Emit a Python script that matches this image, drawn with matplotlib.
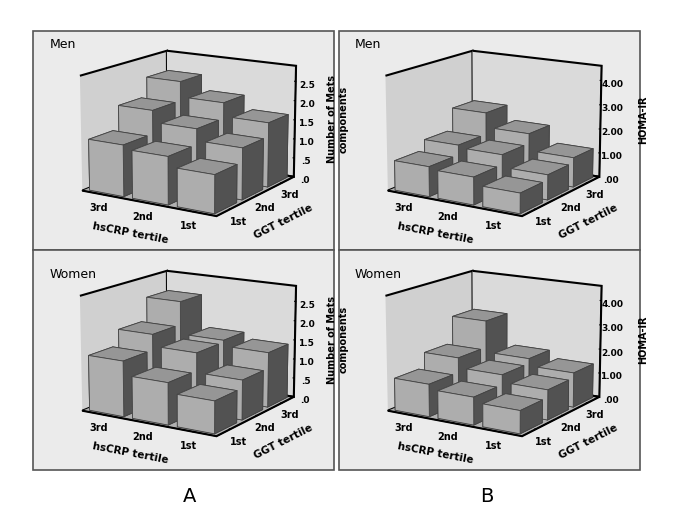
import numpy as np
import matplotlib.pyplot as plt
from matplotlib.patches import Rectangle

hs_labels = ['3rd', '2nd', '1st']
ggt_labels = ['1st', '2nd', '3rd']

# rows: hsCRP tertile (3rd, 2nd, 1st), cols: GGT tertile (1st, 2nd, 3rd)
mets_men = [[1.3, 1.9, 2.4], [1.2, 1.6, 2.0], [0.95, 1.3, 1.65]]
mets_women = [[1.4, 1.8, 2.4], [1.05, 1.5, 1.55], [0.8, 1.0, 1.4]]
homa_men = [[1.2, 1.6, 2.5], [1.1, 1.5, 1.9], [0.8, 1.0, 1.2]]
homa_women = [[1.3, 1.9, 3.0], [1.1, 1.5, 1.7], [0.9, 1.2, 1.4]]

fig = plt.figure(figsize=(6.79, 5.24), dpi=100)
W, H = 679, 524

def box(x0, y0, x1, y1):
    fig.patches.append(Rectangle((x0 / W, 1 - y1 / H), (x1 - x0) / W, (y1 - y0) / H,
                                 transform=fig.transFigure, facecolor='#ebebeb',
                                 edgecolor='#555555', lw=1.2, zorder=-5))

for x0, x1 in [(33, 334), (339, 640)]:
    box(x0, 31, x1, 250)
    box(x0, 250, x1, 470)

def panel(rect, data, zmax, ticks, ticklabels, ylabel, title, px, py):
    ax = fig.add_axes(rect, projection='3d')
    ax.set_facecolor('none')
    ax.patch.set_alpha(0)
    d = np.array(data)
    for i in range(3):
        for j in range(3):
            ax.bar3d(i + 0.1, j + 0.1, 0, 0.8, 0.8, d[i, j], color='#c4c4c4',
                     edgecolor='#444444', linewidth=0.6, shade=True)
    ax.set_xlim(0, 3)
    ax.set_ylim(0, 3)
    ax.set_zlim(0, zmax)
    ax.view_init(elev=14, azim=-58)
    ax.set_xticks([0.5, 1.5, 2.5])
    ax.set_xticklabels(hs_labels, fontsize=7, fontweight='bold')
    ax.set_yticks([0.5, 1.5, 2.5])
    ax.set_yticklabels(ggt_labels, fontsize=7, fontweight='bold')
    ax.set_zticks(ticks)
    ax.set_zticklabels(ticklabels, fontsize=6.5, fontweight='bold')
    ax.set_xlabel('hsCRP tertile', fontsize=7.5, fontweight='bold', labelpad=-4)
    ax.set_ylabel('GGT tertile', fontsize=7.5, fontweight='bold', labelpad=-4)
    ax.set_zlabel(ylabel, fontsize=7, fontweight='bold', labelpad=-2)
    ax.zaxis.set_rotate_label(False)
    ax.zaxis.label.set_rotation(90)
    ax.xaxis.set_pane_color('#d0d0d0')
    ax.yaxis.set_pane_color('#dadada')
    ax.zaxis.set_pane_color('#b0b0b0')
    for a in (ax.xaxis, ax.yaxis, ax.zaxis):
        a.pane.set_edgecolor('black')
        a.pane.set_linewidth(1.5)
        a._axinfo['grid']['linewidth'] = 0
        a._axinfo['tick']['inward_factor'] = 0
    ax.tick_params(pad=-3)
    fig.text(px / W, 1 - py / H, title, fontsize=9, va='center')

mlab = 'Number of Mets\ncomponents'
t1 = [0, 0.5, 1.0, 1.5, 2.0, 2.5]
l1 = ['.0', '.5', '1.0', '1.5', '2.0', '2.5']
t2 = [0, 1, 2, 3, 4]
l2 = ['.00', '1.00', '2.00', '3.00', '4.00']
panel([0.04, 0.52, 0.47, 0.46], mets_men, 2.9, t1, l1, mlab, 'Men', 50, 45)
panel([0.04, 0.10, 0.47, 0.46], mets_women, 2.9, t1, l1, mlab, 'Women', 50, 274)
panel([0.49, 0.52, 0.47, 0.46], homa_men, 4.6, t2, l2, 'HOMA-IR', 'Men', 355, 45)
panel([0.49, 0.10, 0.47, 0.46], homa_women, 4.6, t2, l2, 'HOMA-IR', 'Women', 355, 274)

fig.text(190 / W, 1 - 497 / H, 'A', fontsize=14, ha='center', va='center')
fig.text(487 / W, 1 - 497 / H, 'B', fontsize=14, ha='center', va='center')

fig.savefig('out.png', dpi=100)
